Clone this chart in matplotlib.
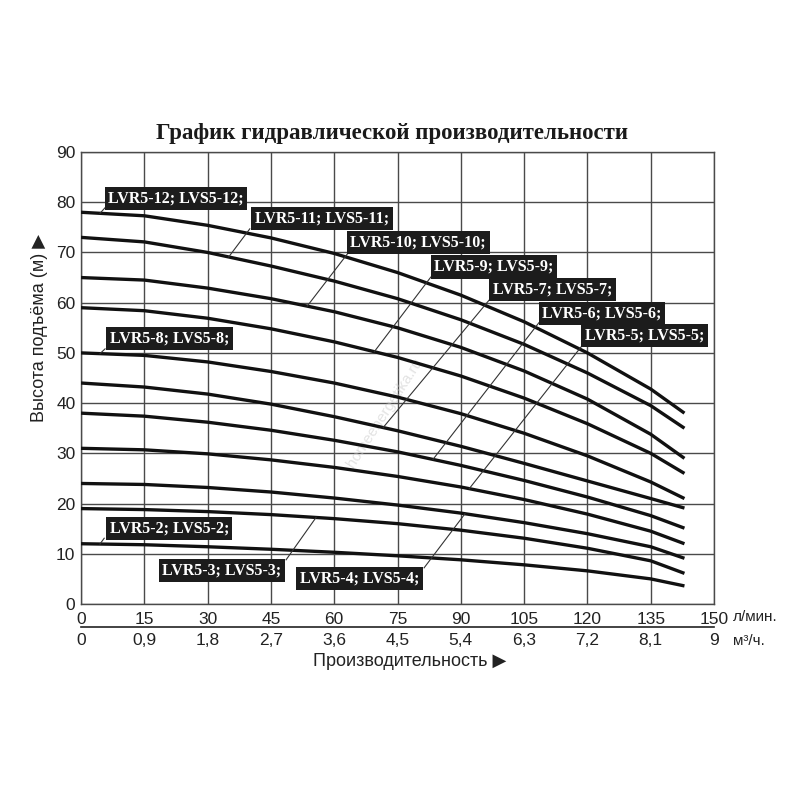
import numpy as np
import matplotlib
matplotlib.use('Agg')
import matplotlib.pyplot as plt

# ========== данные ==========
# расход, л/мин
flow = [0, 15, 30, 45, 60, 75, 90, 105, 120, 135, 143]

# напор, м
head_12 = [78.0, 77.3, 75.4, 72.9, 69.8, 66.0, 61.5, 56.2, 50.0, 42.8, 38.0]
head_11 = [73.0, 72.1, 70.0, 67.3, 64.3, 60.8, 56.6, 51.7, 46.0, 39.5, 35.0]
head_10 = [65.0, 64.5, 62.9, 60.8, 58.2, 55.0, 51.1, 46.4, 40.8, 33.8, 29.0]
head_9 = [59.0, 58.4, 56.9, 54.8, 52.2, 49.1, 45.4, 41.0, 35.9, 30.0, 26.0]
head_8 = [50.0, 49.5, 48.2, 46.3, 44.0, 41.2, 37.9, 34.0, 29.5, 24.3, 21.0]
head_7 = [44.0, 43.2, 41.8, 39.8, 37.3, 34.5, 31.4, 28.0, 24.5, 21.0, 19.1]
head_6 = [38.0, 37.4, 36.2, 34.6, 32.6, 30.3, 27.6, 24.6, 21.3, 17.6, 15.1]
head_5 = [31.0, 30.7, 29.9, 28.7, 27.2, 25.4, 23.3, 20.8, 17.9, 14.5, 12.0]
head_4 = [24.0, 23.8, 23.2, 22.3, 21.1, 19.7, 18.1, 16.2, 14.0, 11.4, 9.1]
head_3 = [19.0, 18.8, 18.4, 17.8, 17.0, 16.0, 14.7, 13.1, 11.1, 8.6, 6.1]
head_2 = [12.0, 11.8, 11.4, 10.9, 10.3, 9.6, 8.8, 7.8, 6.6, 5.0, 3.6]

heads = {
    '12': head_12, '11': head_11, '10': head_10, '9': head_9,
    '8': head_8, '7': head_7, '6': head_6, '5': head_5,
    '4': head_4, '3': head_3, '2': head_2,
}

# подписи осей
x_ticks_lpm = [0, 15, 30, 45, 60, 75, 90, 105, 120, 135, 150]
x_ticks_m3h = [0, 0.9, 1.8, 2.7, 3.6, 4.5, 5.4, 6.3, 7.2, 8.1, 9]
x_labels_m3h = ['0', '0,9', '1,8', '2,7', '3,6', '4,5', '5,4', '6,3', '7,2', '8,1', '9']
y_ticks = [0, 10, 20, 30, 40, 50, 60, 70, 80, 90]

# ========== расположение подписей моделей ==========
# модель: (центр подписи x, y), (начало выноски x, y), x точки на кривой
label_layout = {
    '12': ((22.5, 80.8), (5.7, 78.9), 4.5),
    '11': ((57.1, 76.7), (40.0, 74.7), 35.0),
    '10': ((79.9, 72.0), (63.3, 69.9), 53.6),
    '9': ((97.9, 67.1), (82.9, 65.1), 69.5),
    '7': ((111.7, 62.6), (96.7, 60.5), 71.6),
    '6': ((123.5, 57.8), (108.5, 56.0), 83.4),
    '5': ((133.5, 53.4), (118.7, 51.4), 92.0),
    '8': ((21.0, 52.9), (5.7, 50.8), 4.5),
    '2': ((20.9, 15.1), (5.5, 13.1), 4.5),
    '3': ((33.4, 6.7), (48.6, 8.8), 55.7),
    '4': ((66.0, 5.1), (81.3, 7.2), 91.0),
}

sans = ['Liberation Sans Narrow', 'Liberation Sans', 'DejaVu Sans']
serif = ['Liberation Serif', 'DejaVu Serif']

fig = plt.figure(figsize=(8, 8), dpi=100)
fig.patch.set_facecolor('white')
ax = fig.add_axes([81 / 800, 1 - 604 / 800, 633 / 800, 452 / 800])

grid_col = '#4a4a4a'
ax.set_xlim(0, 150)
ax.set_ylim(0, 90)
ax.set_xticks(x_ticks_lpm)
ax.set_yticks(y_ticks)
ax.grid(True, color=grid_col, linewidth=1.0)
ax.set_axisbelow(True)
for sp in ax.spines.values():
    sp.set_color(grid_col)
    sp.set_linewidth(1.0)
ax.tick_params(length=0, labelsize=12.5, colors='#222222')
ax.tick_params(axis='x', pad=6)
ax.tick_params(axis='y', pad=4)
for lbl in ax.get_xticklabels() + ax.get_yticklabels():
    lbl.set_family(sans)

# вторая шкала в м³/ч
sec = ax.secondary_xaxis(-0.051, functions=(lambda q: q * 0.06, lambda q: q / 0.06))
sec.set_xticks(x_ticks_m3h)
sec.set_xticklabels(x_labels_m3h)
sec.tick_params(length=0, labelsize=12.5, pad=4, colors='#222222')
for lbl in sec.get_xticklabels():
    lbl.set_family(sans)
sec.spines['bottom'].set_color('#222222')
sec.spines['bottom'].set_linewidth(1.2)

# кривые
for name, h in heads.items():
    ax.plot(flow, h, color='#111111', linewidth=2.4, solid_capstyle='butt',
            solid_joinstyle='round', zorder=3)

# подписи моделей с выносками
for name, ((tx, ty), (sx, sy), cx) in label_layout.items():
    cy = np.interp(cx, flow, heads[name])
    ax.plot([sx, cx], [sy, cy], color='#333333', linewidth=0.8, zorder=4)
    ax.text(tx, ty, f'LVR5-{name}; LVS5-{name};', ha='center', va='center',
            color='white', fontsize=11.5, fontweight='bold', family=serif, zorder=5,
            bbox=dict(boxstyle='square,pad=0.22', fc='#1c1c1c', ec='none'))

# водяной знак
ax.text(72, 38, 'homeenergetika.ru', rotation=57, color='#c8c8c8', alpha=0.5,
        fontsize=11, ha='center', va='center', family=sans, zorder=2)

# единицы и подписи осей
fig.text(733 / 800, 1 - 617 / 800, 'л/мин.', fontsize=11, family=sans,
         va='center', ha='left', color='#222222')
fig.text(733 / 800, 1 - 641 / 800, 'м³/ч.', fontsize=11, family=sans,
         va='center', ha='left', color='#222222')
fig.text(410 / 800, 1 - 661 / 800, 'Производительность ▶', fontsize=13,
         family=sans, ha='center', va='center', color='#222222')
fig.text(40 / 800, 1 - 328 / 800, 'Высота подъёма (м) ▶', fontsize=13,
         family=sans, rotation=90, ha='center', va='center', color='#222222')

fig.text(392 / 800, 1 - 133 / 800, 'График гидравлической производительности',
         fontsize=16.5, fontweight='bold', family=serif, ha='center', va='center',
         color='#1a1a1a')

fig.savefig('out.png', dpi=100, facecolor='white')
